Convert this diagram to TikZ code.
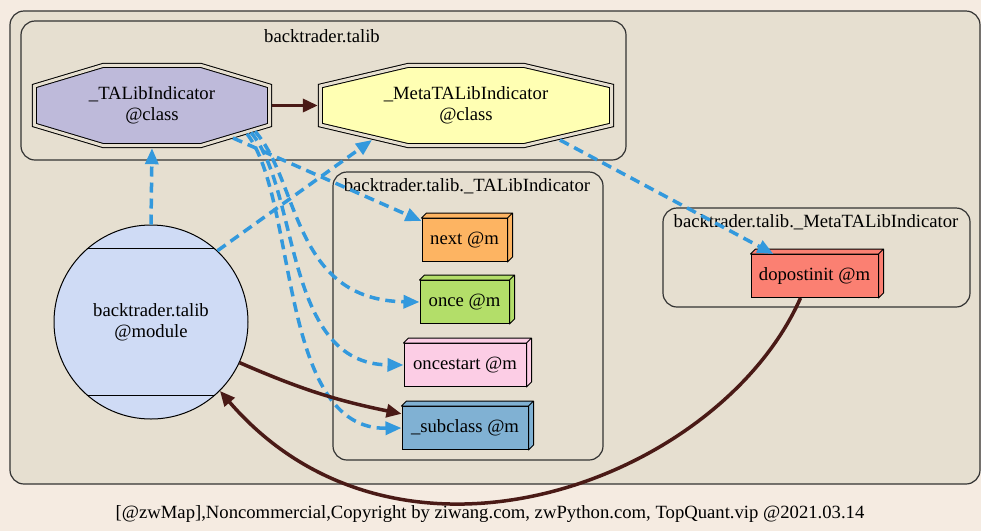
\documentclass[tikz,border=0pt]{standalone}
\usepackage{fontspec}
\setmainfont{Liberation Serif}
\usetikzlibrary{arrows.meta,calc}

\definecolor{pagebg}{HTML}{F5EBE1}
\definecolor{clusterbg}{HTML}{E6DFD0}
\definecolor{depblue}{HTML}{3399DD}
\definecolor{callbrown}{HTML}{4A1A16}
\definecolor{talibfill}{HTML}{BEBADA}
\definecolor{metafill}{HTML}{FFFFB3}
\definecolor{modfill}{HTML}{CFDBF5}
\definecolor{nextfill}{HTML}{FDB462}
\definecolor{oncefill}{HTML}{B3DE69}
\definecolor{ostartfill}{HTML}{FCCDE5}
\definecolor{subfill}{HTML}{80B1D3}
\definecolor{dpifill}{HTML}{FB8072}

\tikzset{
  cluster/.style={draw=black!80, line width=1.2pt, rounded corners=14pt},
  klass/.style={minimum height=85pt, inner sep=0pt, align=center},
  octa/.style={line width=1pt, double=clusterbg, double distance=3pt, line join=miter},
  meth/.style={draw, line width=1pt, minimum height=43pt, inner sep=0pt},
  dep/.style={draw=depblue, line width=3.5pt, dash pattern=on 10pt off 6pt,
    -{Triangle[length=16pt,width=13pt]}},
  call/.style={draw=callbrown, line width=3.5pt, -{Triangle[length=15pt,width=13pt]}},
}

\begin{document}
\begin{tikzpicture}[x=1pt,y=-1pt,font=\fontsize{18.67}{21}\selectfont]
    % page and clusters
    \fill[pagebg] (0,0) rectangle (981,531);
    \useasboundingbox (0,0) rectangle (981,531);
    \filldraw[cluster,fill=clusterbg] (10,11) rectangle (980,484);
    \draw[cluster] (21,21) rectangle (626,160);
    \draw[cluster] (333,172) rectangle (603,460);
    \draw[cluster] (663,208) rectangle (970,307);
    \node (lbltalib) at (322,36) {backtrader.talib};
    \node (lblind) at (467,186) {backtrader.talib.\_TALibIndicator};
    \node (lblmeta) at (816,222) {backtrader.talib.\_MetaTALibIndicator};

    % classes (double octagons)
    \foreach \x/\w/\a/\c in {152/117.7/48.5/talibfill, 466/145.7/57.5/metafill}
        \filldraw[octa, fill=\c]
            (\x-\w,86) -- (\x-\a,65.3) -- (\x+\a,65.3) -- (\x+\w,86)
            -- (\x+\w,125) -- (\x+\a,145.7) -- (\x-\a,145.7) -- (\x-\w,125) -- cycle;
    \node[klass, minimum width=240pt] (talib) at (152,105.5) {\_TALibIndicator\\@class};
    \node[klass, minimum width=296pt] (meta) at (466,105.5) {\_MetaTALibIndicator\\@class};
    % points on the lower slopes
    \coordinate (talibnx) at ($(talib.center)+(81,32.5)$);
    \coordinate (talibon) at ($(talib.center)+(103,25.8)$);
    \coordinate (talibos) at ($(talib.center)+(99,27)$);
    \coordinate (talibsc) at ($(talib.center)+(95,28.3)$);
    \coordinate (metabl) at ($(meta.center)+(-94,34.5)$);
    \coordinate (metabr) at ($(meta.center)+(94,34.5)$);

    % module
    \node[draw, circle, line width=1pt, fill=modfill, minimum size=194pt,
          inner sep=0pt, align=center] (mod) at (151,322) {backtrader.talib\\@module};
    \draw[line width=1pt] (mod.131) -- (mod.49);
    \draw[line width=1pt] (mod.-131) -- (mod.-49);

    % methods
    \node[meth, fill=nextfill, minimum width=85pt] (next) at (464.5,240) {next @m};
    \node[meth, fill=oncefill, minimum width=89pt] (once) at (464.5,302) {once @m};
    \node[meth, fill=ostartfill, minimum width=122pt] (ostart) at (465,365) {oncestart @m};
    \node[meth, fill=subfill, minimum width=126pt] (subcls) at (465,428) {\_subclass @m};
    \node[meth, fill=dpifill, minimum width=127pt] (dpi) at (814.5,276) {dopostinit @m};
    \foreach \n/\c in {next/nextfill,once/oncefill,ostart/ostartfill,subcls/subfill,dpi/dpifill}
        \filldraw[line width=1pt, fill=\c, line join=round]
            (\n.north west) -- ++(5,-5) -| ($(\n.south east)+(5,-5)$)
            -- (\n.south east) -- (\n.north east) -- cycle
            (\n.north east) -- ++(5,-5);

    % edges
    \draw[call] (talib.east) -- (meta.west);
    \draw[dep] (mod.north) -- (talib.south);
    \draw[dep] (mod.47) -- (metabl);
    \draw[dep] (talibnx) -- (next);
    \draw[dep] (metabr) -- (dpi);
    \draw[dep] (talibon) .. controls (300,182) and (292,300) .. (once.west);
    \draw[dep] (talibos) .. controls (300,190) and (283,364) .. (ostart.west);
    \draw[dep] (talibsc) .. controls (298,200) and (278,430) .. (subcls.west);
    \draw[call] (mod) to[bend right=6] (subcls);
    \draw[call] ($(dpi.south)+(-14,0)$) .. controls (720,480) and (400,600) .. (mod.-45);

    % footer
    \node (footer) at (490,514)
        {[@zwMap],Noncommercial,Copyright by ziwang.com, zwPython.com, TopQuant.vip @2021.03.14};
\end{tikzpicture}
\end{document}
